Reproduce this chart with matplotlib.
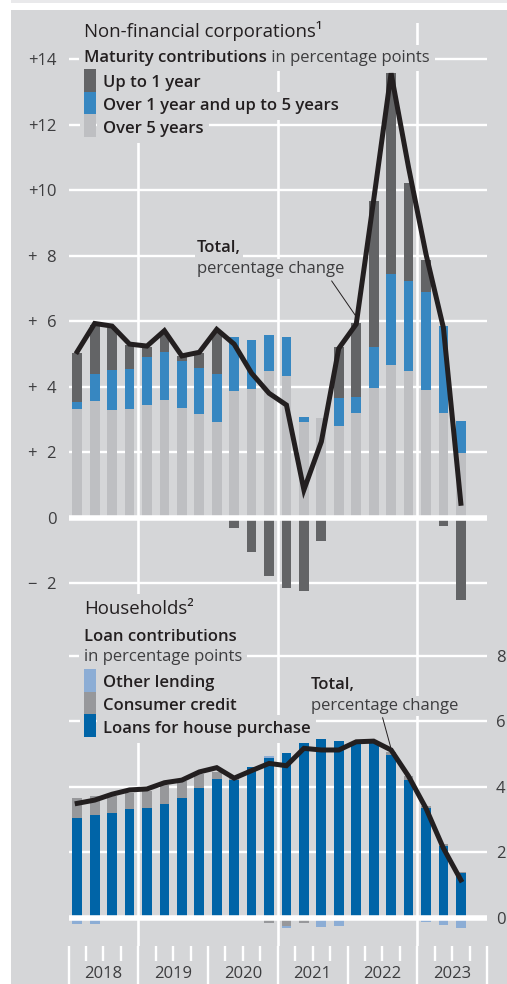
#!/usr/bin/env python3
"""
Loans to non-financial corporations and households:
stacked contributions with the total growth rate on top.
"""

import matplotlib.pyplot as plt
import matplotlib.patches as mpatches
from matplotlib.text import Annotation
import numpy as np

plt.rcParams['font.family'] = ['Open Sans', 'DejaVu Sans']

# Quarters 2018 Q1 .. 2023 Q3
years = ['2018', '2019', '2020', '2021', '2022', '2023']
n_quarters = 23

# Non-financial corporations, maturity contributions (percentage points)
nfc_over_5y = [3.32, 3.56, 3.29, 3.31, 3.44, 3.59, 3.36, 3.18, 2.92, 3.88, 3.93, 4.49,
               4.34, 2.91, 3.03, 2.80, 3.19, 3.95, 4.66, 4.48, 3.90, 3.19, 1.97]
nfc_1_to_5y = [0.20, 0.84, 1.21, 1.23, 1.46, 1.46, 1.42, 1.38, 1.46, 1.63, 1.50, 1.09,
               1.18, 0.16, 0.00, 0.85, 0.51, 1.27, 2.78, 2.75, 3.00, 2.66, 0.98]
nfc_up_to_1y = [1.52, 1.47, 1.30, 0.72, 0.30, 0.60, 0.16, 0.48, 1.30, -0.32, -1.06, -1.78,
                -2.14, -2.23, -0.70, 1.55, 2.25, 4.46, 6.13, 3.00, 0.96, -0.25, -2.51]
nfc_total = [5.07, 5.93, 5.85, 5.30, 5.24, 5.71, 4.94, 5.05, 5.75, 5.30, 4.41, 3.80,
             3.44, 0.85, 2.32, 5.17, 5.91, 9.70, 13.57, 10.70, 8.05, 5.80, 0.44]
nfc_ticks = [-2, 0, 2, 4, 6, 8, 10, 12, 14]
nfc_ticklabels = ['\u2212\u20072', '0', '+\u20072', '+\u20074', '+\u20076', '+\u20078',
                  '+10', '+12', '+14']

# Households, loan contributions (percentage points)
hh_house = [3.04, 3.14, 3.22, 3.32, 3.37, 3.48, 3.67, 3.98, 4.24, 4.21, 4.60, 4.90,
            5.05, 5.38, 5.47, 5.40, 5.38, 5.38, 4.98, 4.21, 3.35, 2.20, 1.36]
hh_consumer = [0.61, 0.59, 0.52, 0.50, 0.52, 0.58, 0.50, 0.42, 0.22, 0.06, 0.00, -0.14,
               -0.24, -0.16, 0.00, 0.00, 0.00, 0.00, 0.10, 0.13, 0.07, 0.05, 0.05]
hh_other = [-0.17, -0.17, 0.00, 0.00, 0.00, 0.00, 0.00, 0.00, 0.00, 0.00, 0.00, 0.04,
            -0.07, 0.00, -0.26, -0.24, 0.00, 0.00, 0.00, 0.00, -0.12, -0.21, -0.31]
hh_total = [3.50, 3.60, 3.78, 3.91, 3.94, 4.13, 4.21, 4.46, 4.59, 4.27, 4.50, 4.72,
            4.65, 5.18, 5.13, 5.13, 5.38, 5.40, 5.13, 4.33, 3.35, 2.13, 1.16]
hh_ticks = [0, 2, 4, 6, 8]

# Colours
BG = '#d5d6d8'
TXT = '#231f20'
TXT_LIGHT = '#3d3d3f'
C_UP1 = '#636466'
C_1TO5 = '#3787c1'
C_OVER5 = '#bebfc2'
C_HOUSE = '#0064a7'
C_CONS = '#97989b'
C_OTHER = '#8cadd5'

W, H = 507, 984
FS = 12          # body text size
FS_TITLE = 13.4  # panel titles


def fx(px):
    return px / W


def fy(py):
    return 1 - py / H


def stacked(ax, x, series, colors, width=0.56):
    pos = np.zeros(len(x))
    neg = np.zeros(len(x))
    for vals, col in zip(series, colors):
        v = np.asarray(vals, dtype=float)
        bottom = np.where(v >= 0, pos, neg)
        ax.bar(x, v, width, bottom=bottom, color=col, linewidth=0, zorder=2)
        pos += np.clip(v, 0, None)
        neg += np.clip(v, None, 0)


def text_box(pad=0.3):
    return dict(boxstyle=f'square,pad={pad}', facecolor=BG, edgecolor='none')


fig = plt.figure(figsize=(W / 100, H / 100), dpi=100)
fig.patch.set_facecolor('white')
fig.add_artist(mpatches.Rectangle((fx(11), 0), 1 - fx(11), fy(10), transform=fig.transFigure,
                                  facecolor=BG, edgecolor='none', zorder=-2))
fig.add_artist(mpatches.Rectangle((fx(11), fy(3.3)), 1 - fx(11), 3.3 / H, transform=fig.transFigure,
                                  facecolor='#e9e9eb', edgecolor='none', zorder=-2))

x = np.arange(n_quarters) + 0.5
dividers = [4, 12, 20]

# ---- Top panel: non-financial corporations ----
ax1 = fig.add_axes([fx(68.5), fy(603), (487 - 68.5) / W, (603 - 23) / H])
ax1.set_facecolor('none')
ax1.set_xlim(0, 24)
ax1.set_ylim(-2.605, 15.105)
for s in ax1.spines.values():
    s.set_visible(False)
ax1.set_axisbelow(True)
ax1.set_yticks(nfc_ticks)
ax1.set_yticklabels(nfc_ticklabels)
ax1.yaxis.grid(True, color='white', lw=1.7)
ax1.set_xticks([])
ax1.tick_params(axis='y', length=0, pad=8.5, labelsize=FS, labelcolor=TXT_LIGHT)
for d in dividers:
    ax1.axvline(d, color='white', lw=1.9, zorder=1)

stacked(ax1, x, [nfc_over_5y, nfc_1_to_5y, nfc_up_to_1y], [C_OVER5, C_1TO5, C_UP1])
ax1.axhline(0, color='white', lw=4, zorder=3)
ax1.plot(x, nfc_total, color=TXT, lw=3.6, zorder=5, solid_joinstyle='miter')

ax1.text(7.37, 8.12, 'Total,', fontsize=FS, fontweight='semibold', color=TXT,
         va='baseline', zorder=3, bbox=text_box(0.12))
ax1.text(7.37, 7.48, 'percentage change', fontsize=FS, color=TXT_LIGHT,
         va='baseline', zorder=3, bbox=text_box(0.12))
ax1.annotate('', xy=(16.55, np.interp(16.55, x, nfc_total)), xytext=(15.0, 7.3),
             arrowprops=dict(arrowstyle='-', color=TXT, lw=0.7), zorder=4)

# ---- Bottom panel: households ----
ax2 = fig.add_axes([fx(68.5), fy(946), (487 - 68.5) / W, (946 - 603) / H])
ax2.set_facecolor('none')
ax2.set_xlim(0, 24)
ax2.set_ylim(-0.855, 9.618)
for s in ax2.spines.values():
    s.set_visible(False)
ax2.set_axisbelow(True)
ax2.yaxis.tick_right()
ax2.set_yticks(hh_ticks)
ax2.yaxis.grid(True, color='white', lw=1.7)
ax2.tick_params(axis='y', length=0, pad=6.5, labelsize=FS, labelcolor=TXT_LIGHT)
for d in dividers:
    ax2.axvline(d, color='white', lw=1.9, zorder=1)

# quarter ticks below the chart, year labels under mid-year ticks
ax2.set_xticks(np.arange(0, 25, 4))
ax2.set_xticklabels([])
minor_pos = [q for q in range(24) if q % 4]
ax2.set_xticks(minor_pos, minor=True)
ax2.set_xticklabels([years[q // 4] if q % 4 == 2 else '' for q in minor_pos], minor=True)
ax2.tick_params(axis='x', which='major', length=32, width=1.7, color='white', direction='out')
ax2.tick_params(axis='x', which='minor', length=11, width=1.7, color='white', direction='out',
                pad=3.5, labelsize=FS, labelcolor=TXT_LIGHT)

stacked(ax2, x, [hh_house, hh_consumer, hh_other], [C_HOUSE, C_CONS, C_OTHER])
ax2.axhline(0, color='white', lw=4, zorder=3)
ax2.plot(x, hh_total, color=TXT, lw=3.6, zorder=5, solid_joinstyle='miter')

ax2.text(13.9, 6.99, 'Total,', fontsize=FS, fontweight='semibold', color=TXT,
         va='baseline', zorder=3, bbox=text_box(0.12))
ax2.text(13.9, 6.35, 'percentage change', fontsize=FS, color=TXT_LIGHT,
         va='baseline', zorder=3, bbox=text_box(0.12))
ax2.annotate('', xy=(18.52, hh_total[18]), xytext=(17.97, 6.2),
             arrowprops=dict(arrowstyle='-', color=TXT, lw=0.7), zorder=4)

# ---- Titles and legends (figure text) ----
fig.text(fx(84), fy(37.3), 'Non-financial corporations\u00b9', fontsize=FS_TITLE, color=TXT,
         va='baseline', bbox=text_box(0.3))
t = fig.text(fx(84), fy(61.7), 'Maturity contributions', fontsize=FS, fontweight='semibold',
             color=TXT, va='baseline', bbox=text_box(0.3))
fig.add_artist(Annotation(' in percentage points', xy=(1, 0), xycoords=t, va='bottom',
                          fontsize=FS, color=TXT_LIGHT, bbox=text_box(0.3)))

fig.text(fx(84), fy(614), 'Households\u00b2', fontsize=FS_TITLE, color=TXT,
         va='baseline', bbox=text_box(0.3))
fig.text(fx(84), fy(640.7), 'Loan contributions', fontsize=FS, fontweight='semibold',
         color=TXT, va='baseline', bbox=text_box(0.3))
fig.text(fx(84), fy(660.7), 'in percentage points', fontsize=FS, color=TXT_LIGHT,
         va='baseline', bbox=text_box(0.3))

legends = [
    ([('Up to 1 year', C_UP1), ('Over 1 year and up to 5 years', C_1TO5),
      ('Over 5 years', C_OVER5)], 69),
    ([('Other lending', C_OTHER), ('Consumer credit', C_CONS),
      ('Loans for house purchase', C_HOUSE)], 669),
]
row_h = 22.7
for entries, top in legends:
    fig.add_artist(mpatches.Rectangle((fx(80), fy(top + 3 * row_h + 5)), 16 / W,
                                      (3 * row_h + 9) / H, transform=fig.transFigure,
                                      facecolor=BG, edgecolor='none', zorder=2))
    for i, (label, col) in enumerate(entries):
        y0 = top + i * row_h
        fig.add_artist(mpatches.Rectangle((fx(84), fy(y0 + row_h)), 12 / W, row_h / H,
                                          transform=fig.transFigure, facecolor=col,
                                          edgecolor='none', zorder=4))
        fig.text(fx(103), fy(y0 + 18.3), label, fontsize=FS, fontweight='semibold',
                 color=TXT, va='baseline', bbox=text_box(0.35), zorder=3)

plt.savefig('out.png', dpi=100, facecolor=fig.get_facecolor())
plt.close()
